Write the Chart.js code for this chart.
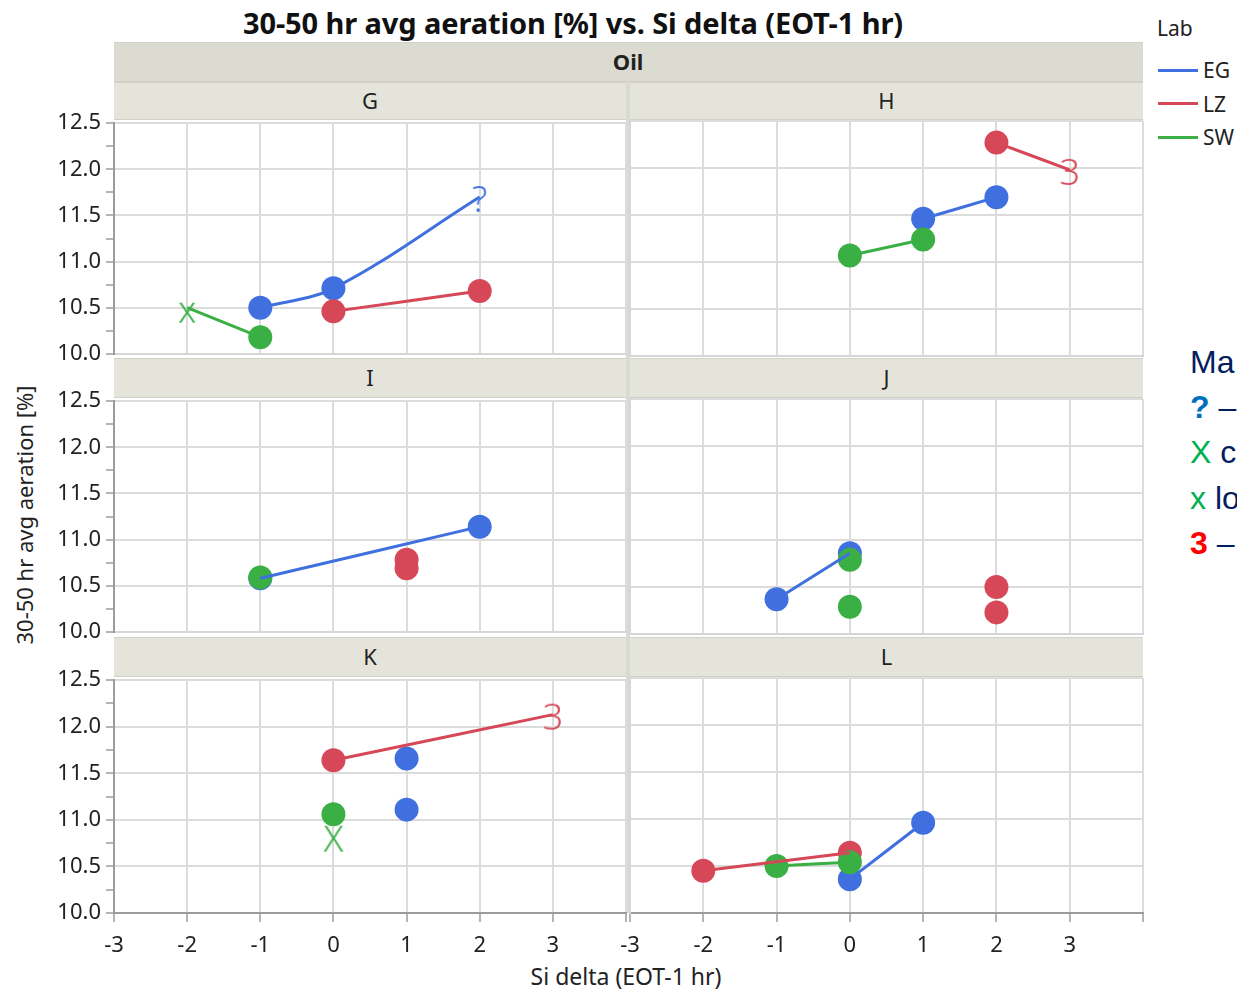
<!DOCTYPE html>
<html>
<head>
<meta charset="utf-8">
<title>30-50 hr avg aeration vs. Si delta</title>
<script src="https://cdn.jsdelivr.net/npm/chart.js@4.4.1/dist/chart.umd.min.js"></script>
<style>
  html, body { margin: 0; padding: 0; background: #fff; }
  body { position: relative; width: 1237px; height: 990px; overflow: hidden; font-family: 'Noto Sans', sans-serif; color: #222; }
  .abs { position: absolute; white-space: nowrap; }
  .c { transform: translate(-50%, -50%); }
  .band { position: absolute; background: #e5e4db; border-top: 1px solid #d2d1c7; border-bottom: 1px solid #d2d1c7; box-sizing: border-box; }
  canvas { position: absolute; }
  #title { left: 573px; top: 22px; font-weight: bold; font-size: 29px; color: #111; letter-spacing: -0.1px; }
  .hdr { font-size: 22px; }
  .legline { position: absolute; height: 3px; width: 40px; left: 1158px; }
  .note { position: absolute; left: 1190px; white-space: nowrap; font-family: 'Liberation Sans', Arial, sans-serif; font-size: 32px; color: #002060; transform: translateY(-50%); }
</style>
</head>
<body>

<div id="title" class="abs c">30-50 hr avg aeration [%] vs. Si delta (EOT-1 hr)</div>

<!-- facet header bands -->
<div class="band" style="left:114px; top:42px; width:1029px; height:40px; background:#dcdbd1;"></div>
<div class="abs c hdr" style="left:628px; top:61px; font-weight:bold;">Oil</div>
<div id="bands"></div>
<div class="abs" style="left:626px; top:82px; width:4px; height:831px; background:#d9d9d6;"></div>

<!-- axis titles -->
<div class="abs c" style="left:24px; top:515px; font-size:22px; transform: translate(-50%,-50%) rotate(-90deg);">30-50 hr avg aeration [%]</div>
<div class="abs c" style="left:626px; top:976px; font-size:23px;">Si delta (EOT-1 hr)</div>

<!-- legend -->
<div class="abs" style="left:1157px; top:14px; font-size:21px;">Lab</div>
<div id="legend"></div>

<!-- marker notes -->
<div class="note" style="top:362px;">Ma</div>
<div class="note" style="top:407px;"><span style="color:#0070c0;font-weight:bold;">?</span> –</div>
<div class="note" style="top:452px;"><span style="color:#00b050;">X</span> c</div>
<div class="note" style="top:498px;"><span style="color:#00b050;">x</span> lo</div>
<div class="note" style="top:543px;"><span style="color:#ff0000;font-weight:bold;">3</span> –</div>

<script>
// ---- data -------------------------------------------------------------
const labs = ['EG', 'LZ', 'SW'];
const labColors = ['#4070e0', '#d64858', '#3ab044'];
const panelNames = ['G', 'H', 'I', 'J', 'K', 'L'];
const xTickLabels = ['-3', '-2', '-1', '0', '1', '2', '3'];
const yTickLabels = ['10.0', '10.5', '11.0', '11.5', '12.0', '12.5'];

// [Si delta, avg aeration] pairs per oil / lab
const G_EG = [[-1, 10.50], [0, 10.71], [2, 11.70]];
const G_LZ = [[0, 10.46], [2, 10.68]];
const G_SW = [[-2, 10.50], [-1, 10.18]];

const H_EG = [[1, 11.46], [2, 11.69]];
const H_LZ = [[2, 12.27], [3, 11.98]];
const H_SW = [[0, 11.07], [1, 11.24]];

const I_EG = [[-1, 10.58], [2, 11.14]];
const I_LZ = [[1, 10.78], [1, 10.69]];
const I_SW = [[-1, 10.59]];

const J_EG = [[-1, 10.37], [0, 10.86]];
const J_LZ = [[2, 10.50], [2, 10.23]];
const J_SW = [[0, 10.79], [0, 10.29]];

const K_EG = [[1, 11.66], [1, 11.11]];
const K_LZ = [[0, 11.64], [3, 12.13]];
const K_SW = [[0, 11.06], [0, 10.82]];

const L_EG = [[0, 10.36], [1, 10.96]];
const L_LZ = [[-2, 10.45], [0, 10.64]];
const L_SW = [[-1, 10.50], [0, 10.54]];

// character markers used in place of the round dot
const G_EG_mark = ['', '', '?'];
const G_SW_mark = ['x', ''];
const H_LZ_mark = ['', '3'];
const K_LZ_mark = ['', '3'];
const K_SW_mark = ['', 'X'];

const seriesByPanel = {
  G: [G_EG, G_LZ, G_SW], H: [H_EG, H_LZ, H_SW], I: [I_EG, I_LZ, I_SW],
  J: [J_EG, J_LZ, J_SW], K: [K_EG, K_LZ, K_SW], L: [L_EG, L_LZ, L_SW]
};
const marksBySeries = { G_EG: G_EG_mark, G_SW: G_SW_mark, H_LZ: H_LZ_mark, K_LZ: K_LZ_mark, K_SW: K_SW_mark };

// ---- layout -------------------------------------------------------------
const PLOT_COLS = [[114, 626], [630, 1143]];
const PLOT_ROWS = [[121, 356], [399, 634], [678, 913]];
const HEADER_ROWS = [[82, 120], [358, 398], [637, 677]];
const PAD = 16;
const PAD_LEFT_RIGHTCOL = 40;
const FONT = "'Noto Sans', sans-serif";

// header bands with oil letters
const bands = document.getElementById('bands');
panelNames.forEach((name, i) => {
  const col = i % 2, row = Math.floor(i / 2);
  const [l, r] = PLOT_COLS[col];
  const [t, b] = HEADER_ROWS[row];
  const d = document.createElement('div');
  d.className = 'band';
  d.style.cssText = `left:${l}px; top:${t}px; width:${r - l}px; height:${b - t}px;`;
  bands.appendChild(d);
  const lab = document.createElement('div');
  lab.className = 'abs c hdr';
  lab.style.cssText = `left:${(l + r) / 2}px; top:${(t + b) / 2 - 1}px;`;
  lab.textContent = name;
  bands.appendChild(lab);
});

// legend entries
const legend = document.getElementById('legend');
labs.forEach((lab, i) => {
  const y = 70 + i * 33.5;
  const ln = document.createElement('div');
  ln.className = 'legline';
  ln.style.cssText = `top:${y - 1.5}px; background:${labColors[i]};`;
  legend.appendChild(ln);
  const t = document.createElement('div');
  t.className = 'abs';
  t.style.cssText = `left:1203px; top:${y}px; font-size:21px; transform:translateY(-50%);`;
  t.textContent = lab;
  legend.appendChild(t);
});

// text glyph marker drawn as a small canvas image
function glyph(ch, color) {
  const c = document.createElement('canvas');
  c.width = 40; c.height = 50;
  const g = c.getContext('2d');
  g.font = `300 36px ${FONT}`;
  g.fillStyle = color;
  g.textAlign = 'center';
  g.textBaseline = 'middle';
  g.fillText(ch, 20, 30);
  return c;
}

function makePanel(name, idx) {
  const col = idx % 2, row = Math.floor(idx / 2);
  const [pl, pr] = PLOT_COLS[col];
  const [pt, pb] = PLOT_ROWS[row];
  const isLeft = col === 0, isBottom = row === 2;
  const padL = isLeft ? 0 : PAD_LEFT_RIGHTCOL;
  const left = pl - (isLeft ? pl : padL);
  const width = pr - left + PAD;
  const top = pt - PAD;
  const axisW = isLeft ? pl : 0;
  const axisH = isBottom ? 60 : 0;
  const padB = isBottom ? 0 : PAD;
  const height = pb - top + axisH + padB;

  const cv = document.createElement('canvas');
  cv.width = width; cv.height = height;
  cv.style.left = left + 'px'; cv.style.top = top + 'px';
  cv.style.width = width + 'px'; cv.style.height = height + 'px';
  document.body.appendChild(cv);

  const datasets = [];
  seriesByPanel[name].forEach((pts, i) => {
    const color = labColors[i];
    const data = pts.map(([x, y]) => ({ x, y }));
    const marks = marksBySeries[name + '_' + labs[i]];
    datasets.push({
      label: labs[i],
      data,
      showLine: false,
      pointStyle: marks ? marks.map(m => (m ? glyph(m, color) : 'circle')) : 'circle',
      pointRadius: 12,
      pointBorderWidth: 0,
      pointBackgroundColor: color,
      borderColor: color,
      clip: false,
      order: 3 + (2 - i)
    });
    const xs = pts.map(p => p[0]);
    if (pts.length > 1 && new Set(xs).size === xs.length) {
      datasets.push({
        label: labs[i] + ' line',
        data,
        showLine: true,
        pointRadius: 0,
        borderColor: color,
        borderWidth: 3,
        tension: 0.35,
        clip: false,
        order: 2 - i
      });
    }
  });

  new Chart(cv, {
    type: 'line',
    data: { datasets },
    options: {
      responsive: false,
      animation: false,
      events: [],
      layout: { autoPadding: false, padding: { left: padL, right: PAD, top: PAD, bottom: padB } },
      plugins: { legend: { display: false }, tooltip: { enabled: false } },
      scales: {
        x: {
          type: 'linear', min: -3, max: 4,
          ticks: {
            stepSize: 1, autoSkip: false, maxRotation: 0, display: isBottom, padding: 11,
            color: '#222', font: { family: FONT, size: 22 },
            callback: v => (xTickLabels.includes(String(v)) ? String(v) : '')
          },
          grid: { color: '#dcdcdc', lineWidth: 2, drawTicks: isBottom, tickLength: 9, tickColor: '#9c9c9c', tickWidth: 1.5 },
          border: { display: true, color: isBottom ? '#9c9c9c' : '#d6d6d6', width: 2 },
          afterFit: s => { s.height = axisH; }
        },
        y: {
          type: 'linear', min: 10, max: 12.5,
          ticks: {
            stepSize: 0.25, autoSkip: false, display: isLeft, padding: 5,
            color: '#222', font: { family: FONT, size: 22 },
            callback: v => { const s = v.toFixed(1); return (v * 2) % 1 === 0 && yTickLabels.includes(s) ? s : ''; }
          },
          grid: {
            color: c => ((c.tick && (c.tick.value * 2) % 1 !== 0) ? 'rgba(0,0,0,0)' : '#dcdcdc'),
            lineWidth: 2, drawTicks: isLeft, tickLength: 8, tickColor: '#9c9c9c', tickWidth: 1.5
          },
          border: { display: true, color: isLeft ? '#9c9c9c' : '#d6d6d6', width: 2 },
          afterFit: s => { s.width = axisW; }
        }
      }
    }
  });
}

panelNames.forEach(makePanel);
</script>
</body>
</html>
